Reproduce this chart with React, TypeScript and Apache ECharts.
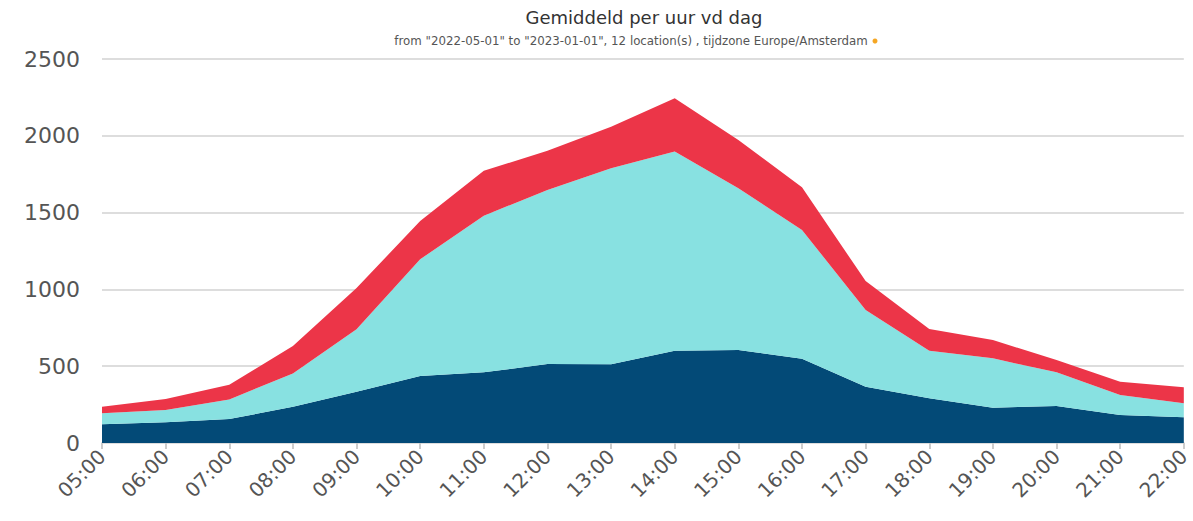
import React, { useEffect, useRef } from "react";
import * as echarts from "echarts";

const hours = ["05:00","06:00","07:00","08:00","09:00","10:00","11:00","12:00","13:00","14:00","15:00","16:00","17:00","18:00","19:00","20:00","21:00","22:00"];
const seriesDark = [122,135,156,236,334,436,460,514,512,601,605,549,367,291,230,241,182,167];
const seriesCyan = [71,80,128,217,406,760,1020,1133,1276,1296,1053,838,499,310,321,219,130,91];
const seriesRed = [43,71,96,178,269,249,292,256,271,347,315,278,188,141,119,80,87,105];
const titleText = "Gemiddeld per uur vd dag";
const subText = 'from "2022-05-01" to "2023-01-01", 12 location(s) , tijdzone Europe/Amsterdam';

export default function App() {
  const ref = useRef<HTMLDivElement>(null);
  useEffect(() => {
    if (!ref.current) return;
    const chart = echarts.init(ref.current, undefined, { renderer: "svg" });
    const mk = (name: string, data: number[], color: string) => ({
      name,
      type: "line",
      stack: "total",
      data,
      symbol: "none",
      lineStyle: { width: 0 },
      areaStyle: { color, opacity: 1 },
      itemStyle: { color },
    });
    chart.setOption({
      animation: false,
      graphic: [
        { type: "text", x: 644, y: 17, style: { text: titleText, font: "18px 'DejaVu Sans'", fill: "#333", textAlign: "center", textVerticalAlign: "middle" } },
        { type: "text", x: 631, y: 41, style: { text: subText, font: "11.8px 'DejaVu Sans'", fill: "#555", textAlign: "center", textVerticalAlign: "middle" } },
        { type: "circle", shape: { cx: 875, cy: 41, r: 2.5 }, style: { fill: "#f5a623" } },
      ],
      grid: { left: 102, right: 7, top: 59, bottom: 78 },
      xAxis: {
        type: "category",
        data: hours,
        boundaryGap: false,
        axisLine: { lineStyle: { color: "#ddd", width: 2 } },
        axisTick: { show: true, lineStyle: { color: "#ccc", width: 2 }, length: 6 },
        axisLabel: { rotate: 45, fontSize: 20, color: "#555", fontFamily: "'DejaVu Sans'", margin: 10 },
      },
      yAxis: {
        type: "value",
        min: 0,
        max: 2500,
        interval: 500,
        axisLine: { show: false },
        axisTick: { show: false },
        splitLine: { lineStyle: { color: "#ddd", width: 2 } },
        axisLabel: { fontSize: 22, color: "#555", fontFamily: "'DejaVu Sans'", margin: 22, formatter: (v: number) => String(v) },
      },
      series: [
        mk("A", seriesDark, "#034a77"),
        mk("B", seriesCyan, "#88e1e1"),
        mk("C", seriesRed, "#ec3548"),
      ],
    });
    return () => chart.dispose();
  }, []);
  return <div ref={ref} style={{ position: "absolute", left: 0, top: 0, width: 1193, height: 521 }} />;
}
